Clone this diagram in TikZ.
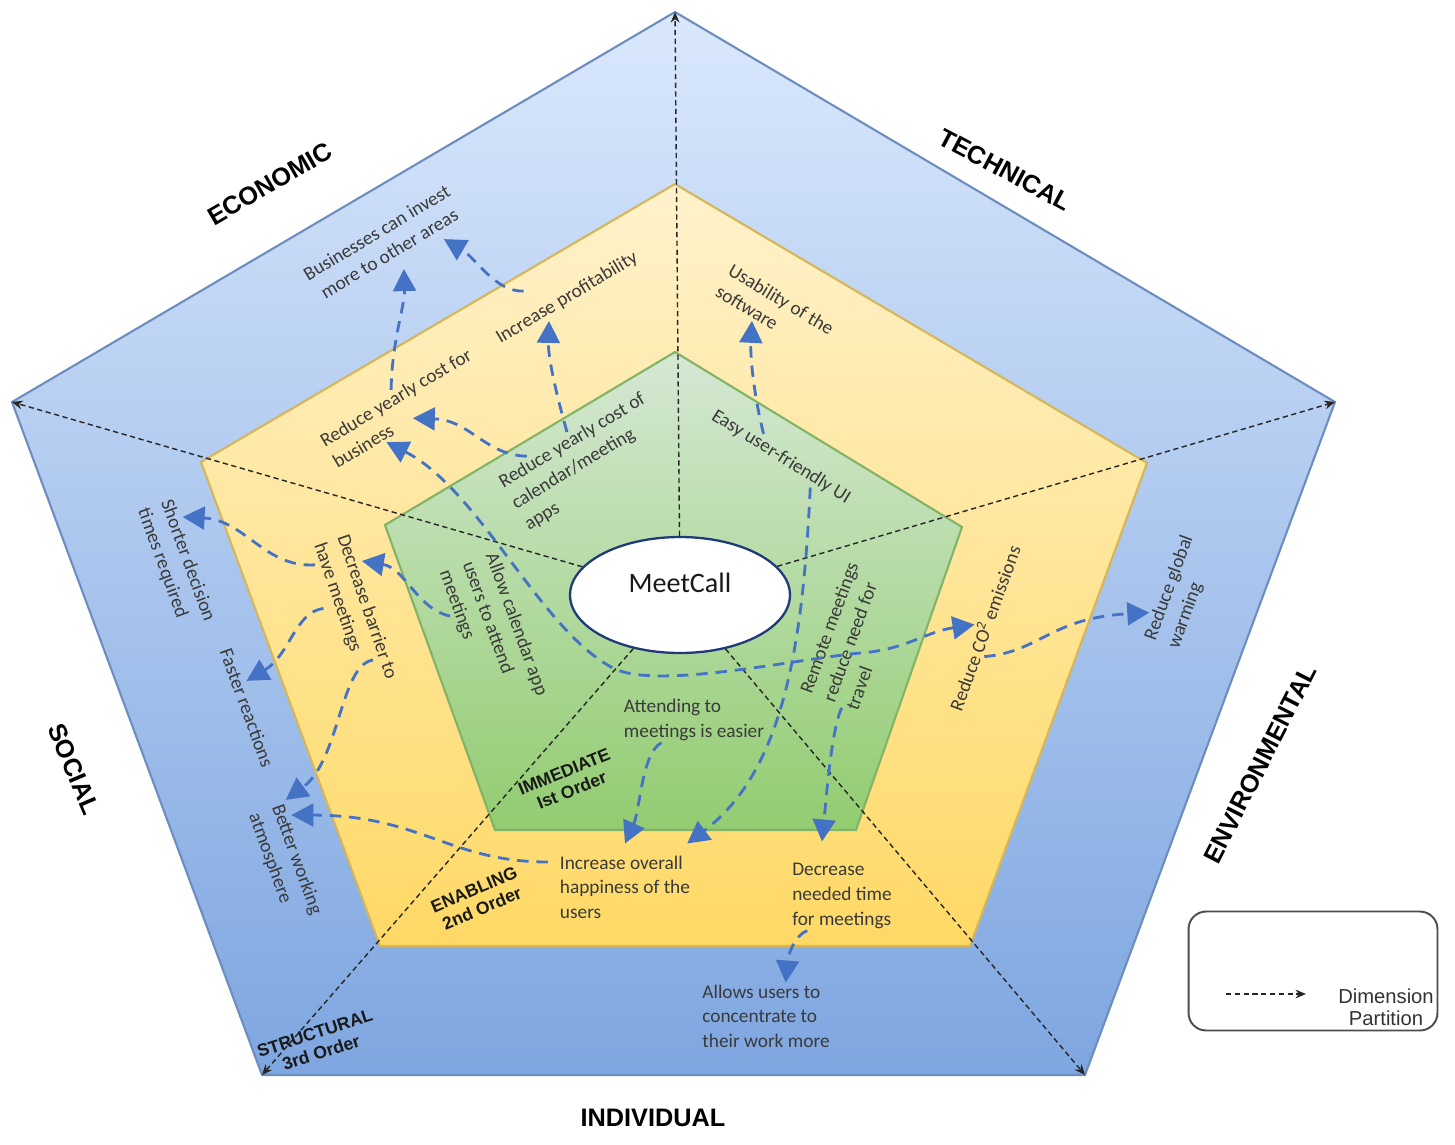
\documentclass[tikz,border=0pt]{standalone}
\usepackage{fontspec}
\setmainfont{Carlito}
\newfontfamily\arialfont{Liberation Sans}
\usepackage{tikz}
\usetikzlibrary{arrows.meta, calc, shapes.geometric}
\definecolor{bluetop}{HTML}{DAE8FC}
\definecolor{bluebottom}{HTML}{7EA6E0}
\definecolor{blueedge}{HTML}{6C8EBF}
\definecolor{yellowtop}{HTML}{FFF2CC}
\definecolor{yellowbottom}{HTML}{FFD966}
\definecolor{yellowedge}{HTML}{D6B656}
\definecolor{greentop}{HTML}{D5E8D4}
\definecolor{greenbottom}{HTML}{92CC70}
\definecolor{greenedge}{HTML}{82B366}
\definecolor{flowblue}{HTML}{4472C4}
\definecolor{hubedge}{HTML}{1F3A78}
\definecolor{txtgray}{HTML}{3A3A3A}
\tikzset{
    bigtip/.tip={Triangle[length=12.5pt, width=13pt]},
    outerband/.style={draw=blueedge, line width=1.2pt, top color=bluetop, bottom color=bluebottom},
    midband/.style={draw=yellowedge, line width=1.2pt, top color=yellowtop, bottom color=yellowbottom},
    innerband/.style={draw=greenedge, line width=1.2pt, top color=greentop, bottom color=greenbottom},
    hub/.style={ellipse, draw=hubedge, line width=1.3pt, fill=white, minimum width=4.4cm, minimum height=2.32cm, inner sep=0pt, text=black!90, font=\fontsize{16}{19}\selectfont, text height=0.3cm, text depth=0.42cm},
    effect/.style={text=txtgray, font=\fontsize{11}{14}\selectfont, inner sep=1pt},
    dimlabel/.style={text=black, font=\arialfont\bfseries\fontsize{14.4}{16}\selectfont},
    orderlabel/.style={text=black!90, align=center, font=\arialfont\bfseries\fontsize{10}{11.5}\selectfont},
    flow/.style={draw=flowblue, line width=1.6pt, dash pattern=on 6.5pt off 4.5pt, -bigtip},
    partition/.style={draw=black!85, line width=0.8pt, dash pattern=on 3pt off 2pt, -{Stealth[length=6pt, width=5pt]}}
}
\begin{document}
\begin{tikzpicture}[x=0.02cm, y=-0.02cm]
    \useasboundingbox (0,0) rectangle (1455,1144);

    \coordinate (oT) at (675,12);
    \coordinate (oR) at (1335,402);
    \coordinate (oBR) at (1085,1075);
    \coordinate (oBL) at (262,1075);
    \coordinate (oL) at (12,402);
    \coordinate (yT) at (675,184);
    \coordinate (yR) at (1147,463);
    \coordinate (yBR) at (970,946);
    \coordinate (yBL) at (380,946);
    \coordinate (yL) at (201,462);
    \coordinate (gT) at (675,352);
    \coordinate (gR) at (962,527);
    \coordinate (gBR) at (856,830);
    \coordinate (gBL) at (495,830);
    \coordinate (gL) at (385,525);

    \path [outerband] (oT) -- (oR) -- (oBR) -- (oBL) -- (oL) -- cycle;
    \path [midband] (yT) -- (yR) -- (yBR) -- (yBL) -- (yL) -- cycle;
    \path [innerband] (gT) -- (gR) -- (gBR) -- (gBL) -- (gL) -- cycle;

    \node (mc) [hub] at (680,595) {MeetCall};

    \draw [partition] (mc) -- (oT);
    \draw [partition] (mc) -- (oL);
    \draw [partition] (mc) -- (oR);
    \draw [partition] (mc) -- (oBL);
    \draw [partition] (mc) -- (oBR);

    \node (econ) [dimlabel, rotate=30] at (270,184) {ECONOMIC};
    \node (tech) [dimlabel, rotate=-28] at (1005,170) {TECHNICAL};
    \node (env) [dimlabel, rotate=63] at (1260,764) {ENVIRONMENTAL};
    \node (soc) [dimlabel, rotate=-67] at (74,769) {SOCIAL};
    \node (indiv) [dimlabel] at (653,1118) {INDIVIDUAL};

    \node (imm) [orderlabel, rotate=22] at (568,781) {IMMEDIATE\\Ist Order};
    \node (enab) [orderlabel, rotate=23] at (478,899) {ENABLING\\2nd Order};
    \node (struc) [orderlabel, rotate=18] at (318,1043) {STRUCTURAL\\3rd Order};

    \node (rcal) [effect, align=left, rotate=31] at (585,462) {Reduce yearly cost of\\calendar/meeting\\apps};
    \node (easy) [effect, rotate=-32] at (781,457) {Easy user-friendly UI};
    \node (allow) [effect, align=left, rotate=-70] at (493,633) {Allow calendar app\\users to attend\\meetings};
    \node (remote) [effect, align=left, rotate=70] at (852,636) {Remote meetings\\reduce need for\\travel};
    \node (attend) [effect, align=left] at (694,720) {Attending to\\meetings is easier};

    \node (rbiz) [effect, align=left, rotate=31] at (402,408) {Reduce yearly cost for\\business};
    \node (profit) [effect, rotate=31] at (567,298) {Increase profitability};
    \node (usab) [effect, align=left, rotate=-31] at (775,310) {Usability of the\\software};
    \node (decb) [effect, align=left, rotate=-71] at (355,611) {Decrease barrier to\\have meetings};
    \node (co2) [effect, rotate=70] at (984,628) {Reduce CO\textsuperscript{2} emissions};
    \node (happy) [effect, align=left] at (625,887) {Increase overall\\happiness of the\\users};
    \node (dect) [effect, align=left] at (842,896) {Decrease\\needed time\\for meetings};

    \node (invest) [effect, align=center, rotate=31] at (383,243) {Businesses can invest\\more to other areas};
    \node (shorter) [effect, align=left, rotate=-70] at (176,565) {Shorter decision\\times required};
    \node (faster) [effect, rotate=-70] at (247,708) {Faster reactions};
    \node (better) [effect, align=left, rotate=-70] at (285,864) {Better working\\atmosphere};
    \node (global) [effect, align=left, rotate=70] at (1181,592) {Reduce global\\warming};
    \node (allows) [effect, align=left] at (766,1016) {Allows users to\\concentrate to\\their work more};

    \draw [flow] (rbiz.north) .. controls (392,340) and (405,305) .. ([shift={(10,8)}]invest.south);
    \draw [flow] ([shift={(-38,2)}]profit.north) .. controls (495,292) and (476,258) .. ([shift={(50,-22)}]invest.south);
    \draw [flow] (rcal.north) .. controls (558,400) and (548,360) .. ($(profit.south)!0.33!(profit.south west)$);
    \draw [flow] ($(rcal.north)!0.55!(rcal.north west)$) .. controls (485,455) and (470,420) .. ([shift={(0,-8)}]rbiz.south);
    \draw [flow, bigtip-bigtip] ($(rbiz.south)!0.35!(rbiz.south west)$) .. controls (480,490) and (540,630) .. (613,668) .. controls (655,690) and (790,660) .. (860,653) .. controls (905,650) and (925,632) .. (co2.north);
    \draw [flow] ([shift={(-10,-29)}]allow.south) .. controls (418,610) and (405,568) .. ($(decb.north west)!0.42!(decb.north)$);
    \draw [flow] ($(decb.south west)!0.27!(decb.south)$) .. controls (265,568) and (245,520) .. ($(shorter.north west)!0.35!(shorter.north)$);
    \draw [flow] ([shift={(-10,-10)}]decb.south) .. controls (295,612) and (290,655) .. ($(faster.north)!0.4!(faster.north west)$);
    \draw [flow] ([shift={(18,49)}]decb.center) .. controls (340,665) and (340,760) .. (better.north west);
    \draw [flow] ([shift={(-10,-25)}]happy.west) .. controls (450,862) and (420,815) .. ($(better.north)!0.73!(better.north west)$);
    \draw [flow] ($(attend.south west)!0.55!(attend.south)$) .. controls (642,752) and (640,810) .. ([shift={(0,-10)}]happy.north);
    \draw [flow] ($(easy.south)!0.5!(easy.south east)$) .. controls (803,640) and (785,770) .. ([shift={(-5,-10)}]happy.north east);
    \draw [flow] ($(easy.north)!0.33!(easy.north west)$) .. controls (755,400) and (750,360) .. ($(usab.south)!0.23!(usab.south west)$);
    \draw [flow] ($(remote.west)!0.45!(remote.south west)$) .. controls (832,725) and (826,800) .. ([shift={(-20,-20)}]dect.north);
    \draw [flow] ($(co2.south)!0.3!(co2.south west)$) .. controls (1040,652) and (1050,618) .. ($(global.north)!0.53!(global.north west)$);
    \draw [flow] ($(dect.south)!0.67!(dect.south west)$) .. controls (795,935) and (788,955) .. ($(allows.north)!0.3!(allows.north east)$);

    \node (legend) [draw=black!70, line width=1.1pt, rounded corners=10pt, minimum width=4.98cm, minimum height=2.38cm] at (1313,971) {};
    \coordinate (lgA) at (1226,994);
    \coordinate (lgB) at (1306,994);
    \draw [partition] (lgA) -- (lgB);
    \node (lgtext) [align=center, text=black!80, font=\arialfont\fontsize{11.5}{12.5}\selectfont] at (1386,1007) {Dimension\\Partition};
\end{tikzpicture}
\end{document}
